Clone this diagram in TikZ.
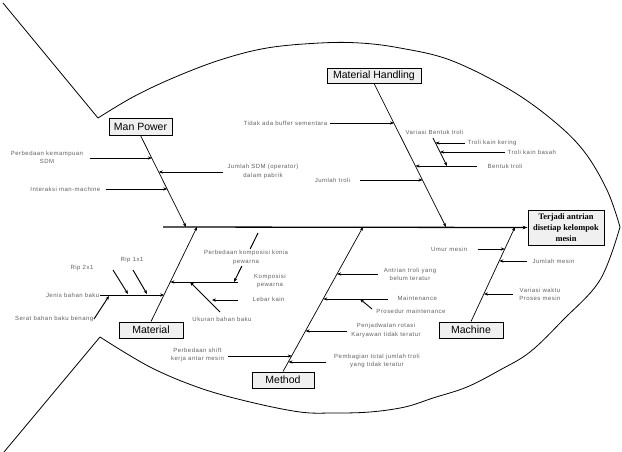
\documentclass[tikz,border=0pt]{standalone}
\usepackage{fontspec}
\setmainfont{Liberation Sans}
\newfontfamily\lblfont{Liberation Sans}[LetterSpace=8.0]
\newfontfamily\efffont{Liberation Serif}
\usetikzlibrary{arrows.meta,calc}
\tikzset{
  cat/.style={draw=black, line width=0.9pt, fill=black!6, inner sep=0pt, minimum height=16pt, font=\fontsize{10.5}{12}\selectfont},
  lbl/.style={font=\lblfont\fontsize{6}{8.5}\selectfont, text=black!62, align=center, inner sep=0.5pt},
  bone/.style={line width=0.7pt, -{Stealth[length=4pt,width=3pt]}},
  sub/.style={line width=0.95pt, -{Stealth[length=4pt,width=3.2pt]}},
  spine/.style={line width=1.3pt, -{Stealth[length=5pt,width=3.6pt]}},
  outline/.style={line width=0.8pt, line join=round},
}
\begin{document}
\begin{tikzpicture}[x=1pt,y=-1pt]
\useasboundingbox[fill=white] (0,0) rectangle (622,452);

% fish outline
\draw[outline] (3,3) -- (98,118);
\draw[outline] plot[smooth, tension=0.6] coordinates {(98,118) (133,97) (173,78) (220,60) (267,48) (320,43) (360,43) (400,48) (450,60) (507,88) (550,118) (583,150) (607,190) (620,227)};
\draw[outline] plot[smooth, tension=0.6] coordinates {(620,227) (600,280) (563,320) (530,352) (500,370) (467,387) (433,398) (405,407) (370,412) (333,413) (300,412) (250,402) (200,388) (150,367) (100,337)};
\draw[outline] (100,337) -- (4,452);

% effect and categories
\node[draw=black, line width=0.9pt, fill=black!6, minimum width=76pt, minimum height=35pt, inner sep=0pt, align=center,
      font=\efffont\bfseries\fontsize{8.4}{11}\selectfont] (eff) at (566,227.5) {Terjadi antrian\\disetiap kelompok\\mesin};
\node[cat, minimum width=63pt, minimum height=17pt] (mp) at (140.5,126.5) {Man Power};
\node[cat, minimum width=94pt, minimum height=15pt] (mh) at (374,75.5) {Material Handling};
\node[cat, minimum width=64pt] (mat) at (151,330) {Material};
\node[cat, minimum width=62pt] (met) at (283,380) {Method};
\node[cat, minimum width=64pt] (mac) at (471,330) {Machine};

% spine and bones
\coordinate (sp0) at (163,227);
\coordinate (s1) at (186,227);
\coordinate (s2) at (197,227);
\coordinate (s3) at (363,227);
\coordinate (s4) at (446,227);
\coordinate (s5) at (515,227);
\draw[spine] (sp0) -- (eff.west);
\draw[bone] (mp.south) -- (s1);
\draw[bone] (mat.north) -- (s2);
\draw[bone] (met.north) -- (s3);
\draw[bone] (mh.south) -- (s4);
\draw[bone] (mac.north) -- (s5);

% ---- Man Power causes
\node[lbl] (l1) at (47,157.5) {Perbedaan kemampuan\\SDM};
\node[lbl] (l2) at (263,171.5) {Jumlah SDM (operator)\\dalam pabrik};
\node[lbl, anchor=east] (l3) at (101,189) {Interaksi man-machine};
\coordinate (a1s) at (90,158);  \coordinate (a1e) at (151.9,158);
\coordinate (a2s) at (223,172); \coordinate (a2e) at (158.8,172);
\coordinate (a3s) at (106,189); \coordinate (a3e) at (167.2,189);
\draw[sub] (a1s) -- (a1e);
\draw[sub] (a2s) -- (a2e);
\draw[sub] (a3s) -- (a3e);

% ---- Material Handling causes
\node[lbl, anchor=east] (h1) at (328,123) {Tidak ada buffer sementara};
\node[lbl, anchor=east] (h2) at (351,180) {Jumlah troli};
\node[lbl, anchor=west] (h3) at (487,166) {Bentuk troli};
\node[lbl] (h4) at (434.5,132) {Variasi Bentuk troli};
\node[lbl, anchor=west] (h5) at (467,143) {Troli kain kering};
\node[lbl, anchor=west] (h6) at (507,152) {Troli kain basah};
\coordinate (b1s) at (330,123); \coordinate (b1e) at (394,123);
\coordinate (b2s) at (360,180); \coordinate (b2e) at (422.5,180);
\coordinate (b3s) at (477,166); \coordinate (b3e) at (415.5,166);
\coordinate (v0) at (433,138);  \coordinate (v1) at (447,166);
\coordinate (b5s) at (465,143); \coordinate (b5e) at (435.5,143);
\coordinate (b6s) at (505,152); \coordinate (b6e) at (440,152);
\draw[sub] (b1s) -- (b1e);
\draw[sub] (b2s) -- (b2e);
\draw[sub] (b3s) -- (b3e);
\draw[bone] (v0) -- (v1);
\draw[sub] (b5s) -- (b5e);
\draw[sub] (b6s) -- (b6e);

% ---- Material causes
\node[lbl, anchor=east] (m1) at (100,295) {Jenis bahan baku};
\coordinate (j1) at (164.1,295);
\draw[sub] (m1.east) -- (j1);
\node[lbl] (m2) at (82,268) {Rip 2x1};
\node[lbl] (m3) at (132,260) {Rip 1x1};
\coordinate (r1s) at (113,270); \coordinate (r1e) at (128,294);
\coordinate (r2s) at (133,270); \coordinate (r2e) at (147,294);
\draw[sub] (r1s) -- (r1e);
\draw[sub] (r2s) -- (r2e);
\node[lbl, anchor=east] (m4) at (94,319) {Serat bahan baku benang};
\coordinate (sb) at (109,296);
\draw[sub] (m4.east) -- (sb);
\node[lbl] (m5) at (270,281) {Komposisi\\pewarna};
\coordinate (k0) at (238,282); \coordinate (k1) at (170.4,282);
\draw[sub] (k0) -- (k1);
\coordinate (pk0) at (258,233); \coordinate (pk1) at (234,282);
\draw[sub] (pk0) -- (pk1);
\node[lbl, fill=white, inner sep=1.5pt] (m6) at (246,257.5) {Perbedaan komposisi kimia\\pewarna};
\node[lbl, anchor=west] (m7) at (252,299.5) {Lebar kain};
\coordinate (lk0) at (238,300); \coordinate (lk1) at (212,300);
\draw[sub] (lk0) -- (lk1);
\node[lbl] (m8) at (222,319) {Ukuran bahan baku};
\coordinate (u0) at (220,312); \coordinate (u1) at (190,282);
\draw[sub] (u0) -- (u1);

% ---- Method causes
\node[lbl] (t1) at (410,274.5) {Antrian troli yang\\belum teratur};
\coordinate (t1s) at (378,274); \coordinate (t1e) at (337.1,274);
\draw[sub] (t1s) -- (t1e);
\node[lbl, anchor=west] (t2) at (397,298) {Maintenance};
\coordinate (t2s) at (388,299); \coordinate (t2e) at (323.3,299);
\draw[sub] (t2s) -- (t2e);
\node[lbl] (t3) at (411,311) {Prosedur maintenance};
\coordinate (t3s) at (372,309); \coordinate (t3e) at (360,299);
\draw[sub] (t3s) -- (t3e);
\node[lbl] (t4) at (386,330.5) {Penjadwalan rotasi\\Karyawan tidak teratur};
\coordinate (t4s) at (347,331); \coordinate (t4e) at (305.6,331);
\draw[sub] (t4s) -- (t4e);
\node[lbl] (t5) at (377,361) {Pembagian total jumlah troli\\yang tidak teratur};
\coordinate (t5s) at (326,362); \coordinate (t5e) at (288.5,362);
\draw[sub] (t5s) -- (t5e);
\node[lbl] (t6) at (197.5,355) {Perbedaan shift\\kerja antar mesin};
\coordinate (t6s) at (228,356); \coordinate (t6e) at (291.8,356);
\draw[sub] (t6s) -- (t6e);

% ---- Machine causes
\node[lbl, anchor=east] (c1) at (468,249) {Umur mesin};
\coordinate (c1s) at (478,249); \coordinate (c1e) at (504.8,249);
\draw[sub] (c1s) -- (c1e);
\node[lbl, anchor=west] (c2) at (532,261) {Jumlah mesin};
\coordinate (c2s) at (527,261); \coordinate (c2e) at (499.3,261);
\draw[sub] (c2s) -- (c2e);
\node[lbl] (c3) at (540,294.5) {Variasi waktu\\Proses mesin};
\coordinate (c3s) at (513,294); \coordinate (c3e) at (484,294);
\draw[sub] (c3s) -- (c3e);
\end{tikzpicture}
\end{document}
